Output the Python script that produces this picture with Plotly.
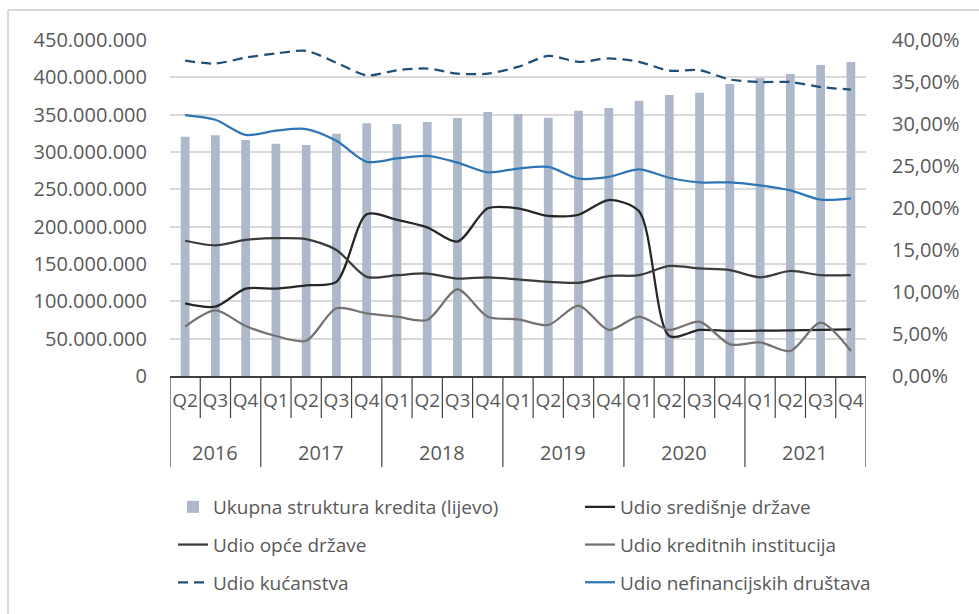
import plotly.graph_objects as go

years = ["2016"] * 3 + ["2017"] * 4 + ["2018"] * 4 + ["2019"] * 4 + ["2020"] * 4 + ["2021"] * 4
quarters = ["Q2", "Q3", "Q4"] + ["Q1", "Q2", "Q3", "Q4"] * 5

ukupno = [320.5e6, 322.3e6, 316.1e6, 311.2e6, 309.4e6, 324.5e6, 338.4e6, 337.5e6, 340.2e6, 345.5e6,
          353.6e6, 350.9e6, 346.0e6, 355.4e6, 358.9e6, 368.7e6, 376.3e6, 379.4e6, 391.1e6, 399.1e6,
          404.5e6, 416.5e6, 420.5e6]

sredisnja = [8.65, 8.25, 10.4, 10.4, 10.8, 11.2, 19.25, 18.6, 17.7, 16.0, 19.96, 19.96, 19.05,
             19.2, 20.95, 19.6, 4.76, 5.48, 5.36, 5.4, 5.43, 5.5, 5.55]
opca = [16.1, 15.55, 16.2, 16.4, 16.3, 15.0, 11.8, 12.0, 12.2, 11.6, 11.75, 11.5, 11.2, 11.1,
        11.9, 12.0, 13.1, 12.8, 12.6, 11.75, 12.5, 12.0, 12.0]
kreditne = [5.87, 7.8, 5.95, 4.76, 4.2, 8.06, 7.46, 7.06, 6.67, 10.3, 7.06, 6.75, 6.07, 8.37,
            5.48, 7.06, 5.48, 6.47, 3.77, 4.0, 2.98, 6.35, 2.98]
kucanstva = [37.54, 37.2, 37.9, 38.4, 38.7, 37.3, 35.8, 36.4, 36.6, 36.0, 36.0, 36.8, 38.1, 37.4,
             37.8, 37.4, 36.35, 36.4, 35.3, 35.0, 35.0, 34.4, 34.1]
nefin = [31.07, 30.5, 28.7, 29.2, 29.4, 28.0, 25.5, 25.9, 26.2, 25.4, 24.25, 24.7, 24.9, 23.5,
         23.7, 24.6, 23.6, 23.05, 23.05, 22.7, 22.1, 21.0, 21.15]

left_ticks = [0, 50e6, 100e6, 150e6, 200e6, 250e6, 300e6, 350e6, 400e6, 450e6]
right_ticks = [0, 0.05, 0.10, 0.15, 0.20, 0.25, 0.30, 0.35, 0.40]

# unique category keys; the axis shows the quarter, the year row is added below
x = [f"{y} {q}" for y, q in zip(years, quarters)]

FONT = "Open Sans"
TXT = "#595959"
AXC = "#404040"

fig = go.Figure()
fig.add_trace(go.Bar(x=x, y=ukupno, name="Ukupna struktura kredita (lijevo)",
                     legend="legend", legendgroup="a",
                     marker=dict(color="#adb9ca", line=dict(width=0))))

def add_line(vals, name, color, leg, grp, dash="solid"):
    fig.add_trace(go.Scatter(x=x, y=[v / 100 for v in vals], name=name, yaxis="y2",
                             mode="lines", legend=leg, legendgroup=grp,
                             line=dict(color=color, width=2.25, dash=dash, shape="spline", smoothing=0.8)))

add_line(sredisnja, "Udio središnje države", "#262626", "legend2", "b")
add_line(opca, "Udio opće države", "#3b3b3b", "legend", "c")
add_line(kreditne, "Udio kreditnih institucija", "#767171", "legend2", "d")
add_line(kucanstva, "Udio kućanstva", "#1f4e79", "legend", "e", dash="10px,6px")
add_line(nefin, "Udio nefinancijskih društava", "#2e75b6", "legend2", "f")

leg_common = dict(orientation="v", yref="container", xref="container", yanchor="top",
                  xanchor="left", tracegroupgap=10, bgcolor="rgba(0,0,0,0)",
                  font=dict(family=FONT, size=19, color=TXT), traceorder="grouped")

fig.update_layout(
    width=979, height=614,
    margin=dict(l=170, r=113, t=40, b=238, autoexpand=False),
    paper_bgcolor="white", plot_bgcolor="white",
    separators=",.",
    bargap=0.71,
    font=dict(family=FONT, size=20, color=TXT),
    showlegend=True,
    legend=dict(x=173 / 979, y=1 - 488 / 614, **leg_common),
    legend2=dict(x=580 / 979, y=1 - 488 / 614, **leg_common),
    xaxis=dict(type="category", tickvals=x, ticktext=quarters, tickangle=0,
               showline=True, linecolor=AXC, linewidth=1.5, ticks="",
               ticklabelstandoff=6, range=[-0.5, len(x) - 0.5],
               tickfont=dict(family=FONT, size=19, color=TXT), showgrid=False),
    yaxis=dict(range=[0, 450e6], tickvals=left_ticks, tickformat=",d",
               showgrid=True, gridcolor="#d9d9d9", gridwidth=1.5, zeroline=False,
               ticks="", ticklabelstandoff=22, tickfont=dict(family=FONT, size=20, color=TXT)),
    yaxis2=dict(range=[0, 0.40], tickvals=right_ticks, tickformat=".2%", overlaying="y",
                side="right", showgrid=False, zeroline=False, ticks="",
                ticklabelstandoff=25, tickfont=dict(family=FONT, size=20, color=TXT)),
)

PLOT_H = 336.0
# category boundary lines: short under quarters, long at year boundaries
n = len(x)
for i in range(n + 1):
    year_edge = i == 0 or i == n or years[i] != years[i - 1]
    depth = 91 if year_edge else 42
    fig.add_shape(type="line", xref="x", yref="paper", x0=i - 0.5, x1=i - 0.5,
                  y0=0, y1=-depth / PLOT_H, line=dict(color=AXC, width=1.2))

# year labels centred under their quarters
seen = []
for y in years:
    if y not in seen:
        seen.append(y)
for y in seen:
    idx = [i for i, yy in enumerate(years) if yy == y]
    fig.add_annotation(x=sum(idx) / len(idx), y=-76 / PLOT_H, xref="x", yref="paper",
                       text=y, showarrow=False, yanchor="middle", xanchor="center",
                       font=dict(family=FONT, size=20, color=TXT))

# chart-area border (left and top edges)
px_x = lambda p: (p - 170) / 696
px_y = lambda p: (376 - p) / PLOT_H
fig.add_shape(type="line", xref="paper", yref="paper", x0=px_x(8), x1=px_x(8), y0=px_y(10), y1=px_y(614),
              line=dict(color="#d9d9d9", width=2))
fig.add_shape(type="line", xref="paper", yref="paper", x0=px_x(8), x1=px_x(979), y0=px_y(10), y1=px_y(10),
              line=dict(color="#d9d9d9", width=2))

fig.write_html("out.html", config={"displayModeBar": False},
               post_script="document.body.style.margin='0';")
